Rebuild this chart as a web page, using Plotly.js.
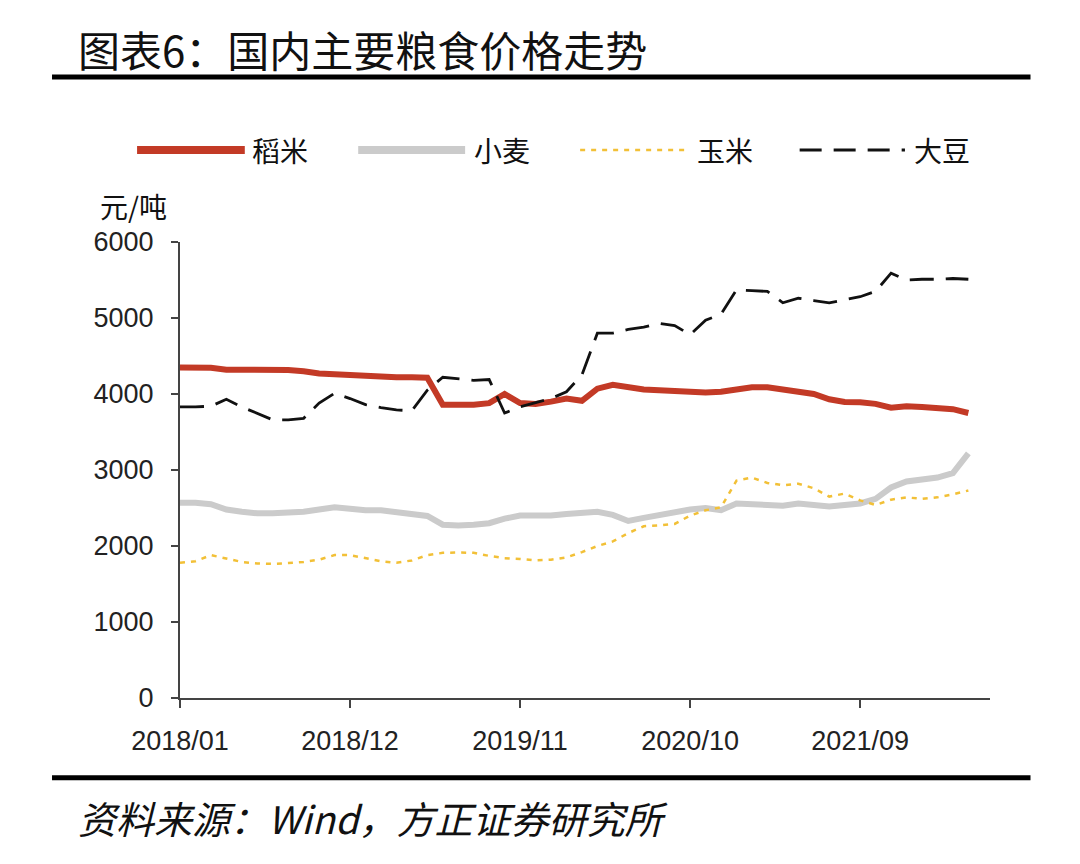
<!DOCTYPE html>
<html>
<head>
<meta charset="utf-8">
<script src="https://cdn.plot.ly/plotly-3.0.1.min.js"></script>
<style>
  html, body { margin: 0; padding: 0; background: #fff; }
  #chart { width: 1080px; height: 864px; }
</style>
</head>
<body>
<div id="chart"></div>
<script>
const months = [
  "2018/01","2018/02","2018/03","2018/04","2018/05","2018/06","2018/07","2018/08","2018/09","2018/10","2018/11","2018/12",
  "2019/01","2019/02","2019/03","2019/04","2019/05","2019/06","2019/07","2019/08","2019/09","2019/10","2019/11","2019/12",
  "2020/01","2020/02","2020/03","2020/04","2020/05","2020/06","2020/07","2020/08","2020/09","2020/10","2020/11","2020/12",
  "2021/01","2021/02","2021/03","2021/04","2021/05","2021/06","2021/07","2021/08","2021/09","2021/10","2021/11","2021/12",
  "2022/01","2022/02","2022/03","2022/04"
];
const tickLabels = ["2018/01","2018/12","2019/11","2020/10","2021/09"];
const seriesNames = ["稻米","小麦","玉米","大豆"];

const rice = [4350,4350,4345,4320,4320,4320,4320,4315,4300,4270,4260,4250,
  4230,4225,4220,4220,4215,3860,3855,3860,3880,4000,3880,3870,
  3900,3940,3910,4070,4120,4080,4060,4050,4040,4030,4020,4030,
  4060,4090,4090,4060,4020,4000,3930,3895,3890,3870,3820,3840,
  3830,3810,3800,3750];
const wheat = [2570,2570,2550,2480,2450,2430,2430,2440,2450,2480,2510,2490,
  2470,2470,2440,2410,2395,2280,2270,2280,2300,2360,2400,2400,
  2400,2420,2430,2450,2410,2330,2370,2410,2430,2480,2500,2470,
  2560,2550,2540,2530,2560,2540,2520,2540,2560,2620,2770,2850,
  2870,2900,2960,3220];
const corn = [1780,1800,1880,1830,1790,1770,1765,1775,1790,1820,1880,1880,
  1840,1800,1780,1810,1880,1910,1915,1910,1870,1840,1830,1810,
  1820,1850,1920,2000,2060,2170,2260,2270,2290,2400,2470,2510,
  2860,2900,2830,2800,2820,2760,2650,2690,2600,2540,2610,2640,
  2620,2640,2680,2730];
const soy = [3830,3830,3840,3930,3830,3740,3660,3660,3680,3880,4010,3940,
  3860,3820,3790,3780,4050,4220,4200,4180,4190,3750,3830,3880,
  3940,4030,4250,4800,4800,4850,4880,4930,4900,4780,4970,5050,
  5370,5360,5350,5200,5260,5230,5200,5240,5280,5350,5590,5500,
  5510,5510,5520,5510];

const cjk = '"Noto Sans CJK SC", "Noto Sans", sans-serif';
const latin = '"Liberation Sans", Arial, sans-serif';

const styles = [
  {color: '#C33A26', width: 6, dash: 'solid'},
  {color: '#CBCBCB', width: 6, dash: 'solid'},
  {color: '#F2C037', width: 2.5, dash: '5px,6px'},
  {color: '#111111', width: 2.8, dash: '24px,12px'}
];
const seriesData = [rice, wheat, corn, soy];

const traces = seriesData.map((d, i) => ({
  x: months, y: d, name: seriesNames[i], type: 'scatter', mode: 'lines',
  line: styles[i], showlegend: false
}));

// manual legend (paper coords)
const legY = 1.202;
const legLine = [[-0.053, 0.080], [0.220, 0.352], [0.494, 0.623], [0.765, 0.895]];
const legText = [0.087, 0.361, 0.636, 0.904];
const legWidths = [8, 8, 2.5, 3];
const legDash = ['solid', 'solid', '5px,6px', '22px,12px'];

const shapes = [
  {type: 'line', xref: 'paper', yref: 'paper', x0: -0.158, x1: 1.05, y0: 1.362, y1: 1.362,
   line: {color: '#000', width: 5}},
  {type: 'line', xref: 'paper', yref: 'paper', x0: -0.158, x1: 1.05, y0: -0.175, y1: -0.175,
   line: {color: '#000', width: 5}}
];
const annotations = [
  {text: '图表6：国内主要粮食价格走势', xref: 'paper', yref: 'paper',
   x: -0.128, y: 1.425, xanchor: 'left', yanchor: 'middle', showarrow: false,
   font: {family: cjk, size: 42, color: '#111'}},
  {text: '元/吨', xref: 'paper', yref: 'paper',
   x: -0.057, y: 1.08, xanchor: 'center', yanchor: 'middle', showarrow: false,
   font: {family: cjk, size: 28, color: '#111'}},
  {text: '<i>资料来源：Wind，方正证券研究所</i>', xref: 'paper', yref: 'paper',
   x: -0.128, y: -0.263, xanchor: 'left', yanchor: 'middle', showarrow: false,
   font: {family: cjk, size: 38, color: '#111'}}
];
seriesNames.forEach((n, i) => {
  shapes.push({type: 'line', xref: 'paper', yref: 'paper',
    x0: legLine[i][0], x1: legLine[i][1], y0: legY, y1: legY,
    line: {color: styles[i].color, width: legWidths[i], dash: legDash[i]}});
  annotations.push({text: n, xref: 'paper', yref: 'paper', x: legText[i], y: legY,
    xanchor: 'left', yanchor: 'middle', showarrow: false,
    font: {family: cjk, size: 28, color: '#111'}});
});

const layout = {
  width: 1080, height: 864,
  paper_bgcolor: '#ffffff', plot_bgcolor: '#ffffff',
  margin: {l: 180, r: 90, t: 242, b: 166, pad: 0},
  showlegend: false,
  xaxis: {
    type: 'category', range: [0, 52.4],
    tickvals: tickLabels, ticktext: tickLabels,
    showgrid: false, zeroline: false,
    showline: true, linecolor: '#444', linewidth: 2,
    ticks: 'outside', ticklen: 8, tickwidth: 2, tickcolor: '#444',
    ticklabelstandoff: 10,
    tickfont: {family: latin, size: 27, color: '#222'},
    fixedrange: true
  },
  yaxis: {
    range: [0, 6000], tickvals: [0,1000,2000,3000,4000,5000,6000],
    showgrid: false, zeroline: false,
    showline: true, linecolor: '#444', linewidth: 2,
    ticks: 'outside', ticklen: 7, tickwidth: 2, tickcolor: '#444',
    ticklabelstandoff: 12,
    tickfont: {family: latin, size: 27, color: '#222'},
    fixedrange: true
  },
  shapes: shapes,
  annotations: annotations
};

Plotly.newPlot('chart', traces, layout, {displayModeBar: false, staticPlot: true});
</script>
</body>
</html>
